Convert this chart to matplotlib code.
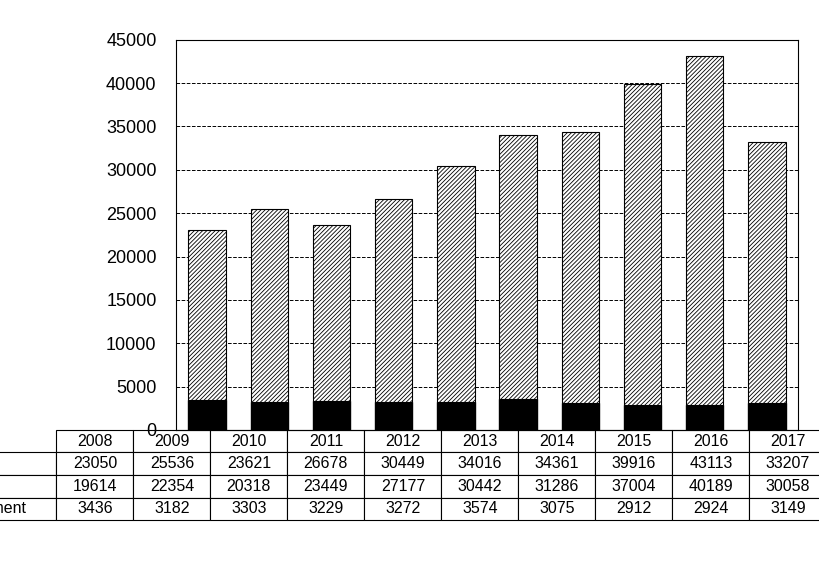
import matplotlib
matplotlib.use("Agg")
import matplotlib.pyplot as plt

plt.rcParams['font.family'] = 'Liberation Sans'
plt.rcParams['hatch.linewidth'] = 0.6

years = ['2008', '2009', '2010', '2011', '2012', '2013', '2014', '2015', '2016', '2017']
total = [23050, 25536, 23621, 26678, 30449, 34016, 34361, 39916, 43113, 33207]
fraud = [19614, 22354, 20318, 23449, 27177, 30442, 31286, 37004, 40189, 30058]
embezzlement = [3436, 3182, 3303, 3229, 3272, 3574, 3075, 2912, 2924, 3149]

fig = plt.figure(figsize=(8.2, 5.68), dpi=100)
ax = fig.add_axes([0.2146, 0.243, 0.7585, 0.687])

x = range(len(years))
ax.bar(x, embezzlement, width=0.6, color='black', edgecolor='black', zorder=3)
ax.bar(x, fraud, width=0.6, bottom=embezzlement, color='white', edgecolor='black',
       hatch='////////', linewidth=0.8, zorder=3)

ax.set_xlim(-0.5, len(years) - 0.5)
ax.set_ylim(0, 45000)
ax.set_yticks(range(0, 45001, 5000))
ax.tick_params(axis='y', labelsize=13, length=0, pad=14)
ax.set_xticks([])
ax.yaxis.grid(True, linestyle='--', color='black', linewidth=0.7, zorder=0)
for s in ax.spines.values():
    s.set_linewidth(0.8)

cells = [[str(v) for v in total], [str(v) for v in fraud], [str(v) for v in embezzlement]]
rows = ['Total', '\u25a8Fraud', '\u25a0Embezzlement']
tw = 148 / 622
tb = ax.table(cellText=cells, rowLabels=rows, colLabels=years,
              colWidths=[0.1] * len(years), cellLoc='center',
              bbox=[-tw, -90 / 390, 1 + tw, 90 / 390])
tb.auto_set_font_size(False)
tb.set_fontsize(11.5)
for (r, c), cell in tb.get_celld().items():
    cell.set_linewidth(0.8)
    if c == -1:
        cell.set_width(tw)
        cell.PAD = 0.02
        if r == 1:
            cell._loc = 'center'
            cell.get_text().set_ha('center')
        else:
            cell._loc = 'left'
            cell.get_text().set_ha('left')

fig.savefig('out.png', dpi=100)
